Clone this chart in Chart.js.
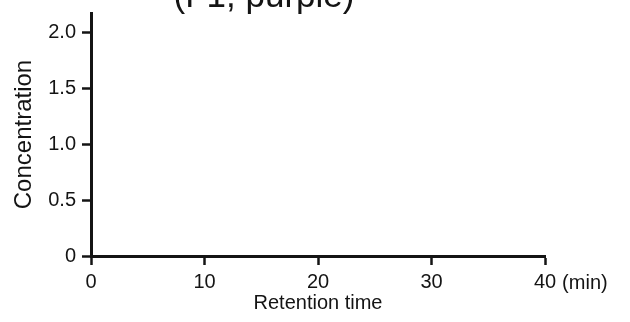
<!DOCTYPE html>
<html><head><meta charset="utf-8">
<script src="https://cdn.jsdelivr.net/npm/chart.js@4/dist/chart.umd.min.js"></script>
<style>html,body{margin:0;padding:0;background:#fff}#wrap{width:630px;height:322px}</style>
</head><body><div id="wrap"><canvas id="c" width="630" height="322"></canvas></div>
<script>
const titleText = '(F1, purple)';
const xLabel = 'Retention time';
const yLabel = 'Concentration';
const xUnit = '(min)';
const xTicks = [0, 10, 20, 30, 40];
const yTicks = [0, 0.5, 1.0, 1.5, 2.0];
const xRange = [0, 40];
const yRange = [0, 2.17];
const retentionTime = [];
const concentration = [];

const FONT = "'Liberation Sans', Arial, Helvetica, sans-serif";
const INK = '#141414';
Chart.defaults.color = INK;
Chart.defaults.font.family = FONT;

const extras = {
  id: 'extras',
  afterDraw(chart) {
    const ctx = chart.ctx;
    const xs = chart.scales.x;
    ctx.save();
    ctx.fillStyle = INK;
    // cropped title at the top
    ctx.font = '35px ' + FONT;
    ctx.textAlign = 'center';
    ctx.textBaseline = 'alphabetic';
    ctx.fillText(titleText, 264, 7);
    // unit after last x tick label
    ctx.font = '20px ' + FONT;
    const last = xTicks[xTicks.length - 1];
    const px = xs.getPixelForValue(last);
    const w = ctx.measureText(String(last)).width;
    ctx.textAlign = 'left';
    ctx.textBaseline = 'middle';
    ctx.fillText(xUnit, px + w / 2 + 6, xs.top + 27);
    ctx.restore();
  }
};

new Chart(document.getElementById('c'), {
  type: 'scatter',
  data: {
    datasets: [{
      label: 'Concentration',
      data: retentionTime.map((t, i) => ({ x: t, y: concentration[i] })),
      borderColor: '#7b3fa0',
      backgroundColor: '#7b3fa0',
      showLine: true,
      pointRadius: 0
    }]
  },
  options: {
    responsive: false,
    animation: false,
    devicePixelRatio: 1,
    layout: { padding: { left: 0, right: 85, top: 13, bottom: 0 } },
    plugins: { legend: { display: false }, tooltip: { enabled: false }, title: { display: false } },
    scales: {
      x: {
        type: 'linear',
        min: xRange[0], max: xRange[1],
        afterBuildTicks: s => { s.ticks = xTicks.map(v => ({ value: v })); },
        afterFit: s => { s.height = 66; s.paddingLeft = 0; s.paddingRight = 0; },
        border: { display: true, color: INK, width: 3 },
        grid: { display: true, drawOnChartArea: false, drawTicks: true, tickLength: 9, tickWidth: 2.5, tickColor: INK },
        ticks: { font: { size: 20 }, color: INK, padding: 5, maxRotation: 0, callback: v => String(v) },
        title: { display: true, text: xLabel, font: { size: 20 }, color: INK, padding: { top: 0, bottom: 7 } }
      },
      y: {
        type: 'linear',
        min: yRange[0], max: yRange[1],
        afterBuildTicks: s => { s.ticks = yTicks.map(v => ({ value: v })); },
        afterFit: s => { s.width = 91; s.paddingTop = 0; s.paddingBottom = 0; },
        border: { display: true, color: INK, width: 3 },
        grid: { display: true, drawOnChartArea: false, drawTicks: true, tickLength: 9, tickWidth: 2.5, tickColor: INK },
        ticks: { font: { size: 20 }, color: INK, padding: 6, callback: v => v === 0 ? '0' : Number(v).toFixed(1) },
        title: { display: true, text: yLabel, font: { size: 24 }, color: INK, padding: { top: 10, bottom: 0 } }
      }
    }
  },
  plugins: [extras]
});
</script></body></html>
